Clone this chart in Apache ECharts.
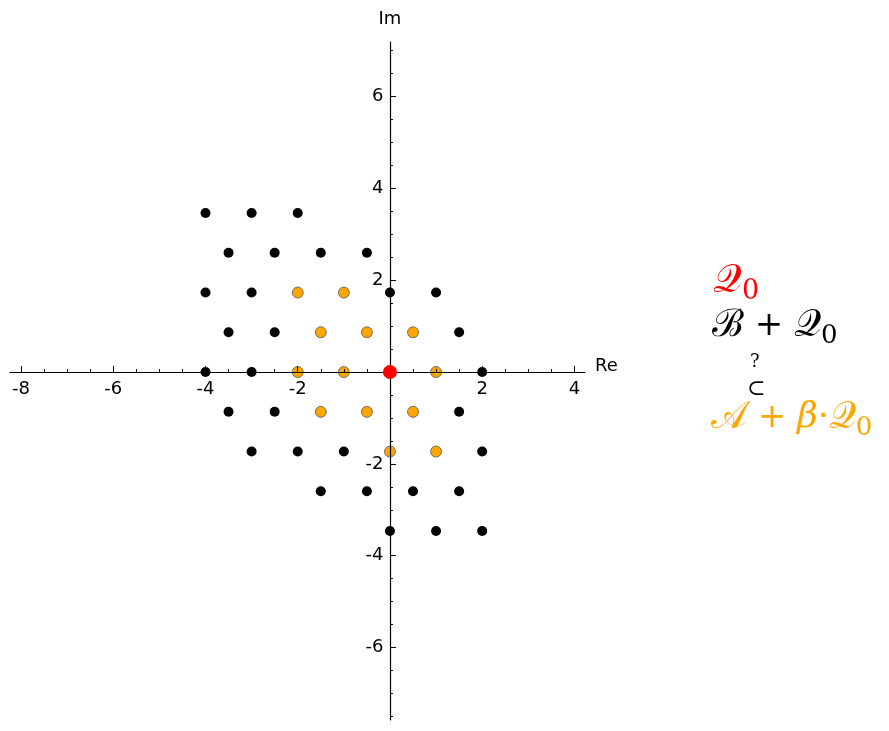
<!DOCTYPE html>
<html>
<head>
<meta charset="utf-8">
<script src="https://cdn.jsdelivr.net/npm/echarts@6/dist/echarts.min.js"></script>
<style>html,body{margin:0;padding:0;background:#fff}#c{width:889px;height:731px}</style>
</head>
<body>
<div id="c"></div>
<script>
// Black lattice points  B + Q0  [Re, Im]
const blackPoints = [
  [-4, 3.464], [-3, 3.464], [-2, 3.464],
  [-3.5, 2.598], [-2.5, 2.598], [-1.5, 2.598], [-0.5, 2.598],
  [-4, 1.732], [-3, 1.732], [0, 1.732], [1, 1.732],
  [-3.5, 0.866], [-2.5, 0.866], [1.5, 0.866],
  [-4, 0], [-3, 0], [2, 0],
  [-3.5, -0.866], [-2.5, -0.866], [1.5, -0.866],
  [-3, -1.732], [-2, -1.732], [-1, -1.732], [2, -1.732],
  [-1.5, -2.598], [-0.5, -2.598], [0.5, -2.598], [1.5, -2.598],
  [0, -3.464], [1, -3.464], [2, -3.464]
];
// Orange points  A + beta*Q0
const orangePoints = [
  [-2, 1.732], [-1, 1.732],
  [-1.5, 0.866], [-0.5, 0.866], [0.5, 0.866],
  [-2, 0], [-1, 0], [1, 0],
  [-1.5, -0.866], [-0.5, -0.866], [0.5, -0.866],
  [0, -1.732], [1, -1.732]
];
// Red point Q0
const redPoints = [[0, 0]];
// Tick labels
const xTicks = [-8, -6, -4, -2, 2, 4];
const yTicks = [-6, -4, -2, 2, 4, 6];
// Tick marks
const xMajor = [-8, -6, -4, -2, 0, 2, 4];
const yMajor = [-6, -4, -2, 0, 2, 4, 6];
const xMinor = [-7.5, -7, -6.5, -5.5, -5, -4.5, -3.5, -3, -2.5, -1.5, -1, -0.5, 0.5, 1, 1.5, 2.5, 3, 3.5];
const yMinor = [-7.5, -7, -6.5, -5.5, -5, -4.5, -3.5, -3, -2.5, -1.5, -1, -0.5, 0.5, 1, 1.5, 2.5, 3, 3.5, 4.5, 5, 5.5, 6.5, 7];

const X_MIN = -8.24, X_MAX = 4.23, Y_MIN = -7.58, Y_MAX = 7.19;

const chart = echarts.init(document.getElementById('c'), null, {renderer: 'canvas'});
const font = 'DejaVu Sans';
const mathFont = '"DejaVu Serif", "Liberation Serif", serif';
const gridRect = {left: 10, right: 304, top: 42, bottom: 11, containLabel: false, outerBoundsMode: 'none'};

const hiddenSym = {color: 'rgba(0,0,0,0)'};
const tickLabelStyle = {show: true, fontFamily: font, fontSize: 18, color: '#000', opacity: 1,
  textBorderWidth: 0, textShadowBlur: 0};
chart.setOption({
  animation: false,
  backgroundColor: '#fff',
  grid: [Object.assign({}, gridRect), Object.assign({}, gridRect)],
  xAxis: [{
    gridIndex: 0, type: 'value', min: X_MIN, max: X_MAX,
    axisLine: {onZero: true, lineStyle: {color: '#000', width: 1.2}},
    axisTick: {inside: true, length: 6, customValues: xMajor, lineStyle: {color: '#000', width: 1}},
    splitLine: {show: false}, axisLabel: {show: false},
    name: 'Re', nameLocation: 'end', nameGap: 10,
    nameTextStyle: {fontFamily: font, fontSize: 18, color: '#000', verticalAlign: 'bottom', lineHeight: 12}
  }, {
    gridIndex: 1, type: 'value', min: X_MIN, max: X_MAX,
    axisLine: {show: false, onZero: true},
    axisTick: {inside: true, length: 3, customValues: xMinor, lineStyle: {color: '#000', width: 1}},
    axisLabel: {show: false}, splitLine: {show: false}
  }],
  yAxis: [{
    gridIndex: 0, type: 'value', min: Y_MIN, max: Y_MAX,
    axisLine: {onZero: true, lineStyle: {color: '#000', width: 1.2}},
    axisTick: {inside: true, length: 6, customValues: yMajor, lineStyle: {color: '#000', width: 1}},
    splitLine: {show: false}, axisLabel: {show: false},
    name: 'Im', nameLocation: 'end', nameGap: 14,
    nameTextStyle: {fontFamily: font, fontSize: 18, color: '#000'}
  }, {
    gridIndex: 1, type: 'value', min: Y_MIN, max: Y_MAX,
    axisLine: {show: false, onZero: true},
    axisTick: {inside: true, length: 3, customValues: yMinor, lineStyle: {color: '#000', width: 1}},
    axisLabel: {show: false}, splitLine: {show: false}
  }],
  series: [
    {type: 'scatter', xAxisIndex: 0, yAxisIndex: 0, data: blackPoints, symbolSize: 10, z: -1,
     itemStyle: {color: '#000', opacity: 1}},
    {type: 'scatter', xAxisIndex: 0, yAxisIndex: 0, data: orangePoints, symbolSize: 11, z: -1,
     itemStyle: {color: '#ffa500', borderColor: '#555', borderWidth: 0.8, opacity: 1}},
    {type: 'scatter', xAxisIndex: 0, yAxisIndex: 0, data: redPoints, symbolSize: 14, z: 10,
     itemStyle: {color: '#ff0000', opacity: 1}},
    // tick labels placed on the axes through the axis scales
    {type: 'scatter', xAxisIndex: 0, yAxisIndex: 0, silent: true, symbolSize: 1, z: 20,
     data: xTicks.map(v => [v, 0]), itemStyle: hiddenSym,
     label: Object.assign({position: 'bottom', distance: 8, formatter: p => String(p.value[0])}, tickLabelStyle)},
    {type: 'scatter', xAxisIndex: 0, yAxisIndex: 0, silent: true, symbolSize: 1, z: 20,
     data: yTicks.map(v => [0, v]), itemStyle: hiddenSym,
     label: Object.assign({position: 'left', distance: 6, formatter: p => String(p.value[1])}, tickLabelStyle)}
  ],
  graphic: [
    {type: 'text', left: 713, top: 262, z: 100, style: {
      text: '{q|𝒬}{s|0}', rich: {
        q: {fontFamily: mathFont, fontSize: 40, fill: '#ff0000'},
        s: {fontFamily: mathFont, fontSize: 27, fill: '#ff0000', padding: [20, 0, 0, 0]}
      }}},
    {type: 'text', left: 712, top: 307, z: 100, style: {
      text: '{q|ℬ}{p| + }{q|𝒬}{s|0}', rich: {
        q: {fontFamily: mathFont, fontSize: 38, fill: '#000'},
        p: {fontFamily: mathFont, fontSize: 34, fill: '#000'},
        s: {fontFamily: mathFont, fontSize: 26, fill: '#000', padding: [20, 0, 0, 0]}
      }}},
    {type: 'text', left: 750, top: 353, z: 100, style: {
      text: '?', fontFamily: mathFont, fontSize: 18, fill: '#000'}},
    {type: 'text', left: 747, top: 378, z: 100, style: {
      text: '⊂', fontFamily: mathFont, fontSize: 22, fill: '#000'}},
    {type: 'text', left: 711, top: 399, z: 100, style: {
      text: '{q|𝒜}{p| + }{b|β}{p|·}{q|𝒬}{s|0}', rich: {
        q: {fontFamily: mathFont, fontSize: 38, fill: '#ffa500'},
        p: {fontFamily: mathFont, fontSize: 34, fill: '#ffa500'},
        b: {fontFamily: mathFont, fontSize: 36, fill: '#ffa500', fontStyle: 'italic'},
        s: {fontFamily: mathFont, fontSize: 26, fill: '#ffa500', padding: [20, 0, 0, 0]}
      }}}
  ]
});
</script>
</body>
</html>
